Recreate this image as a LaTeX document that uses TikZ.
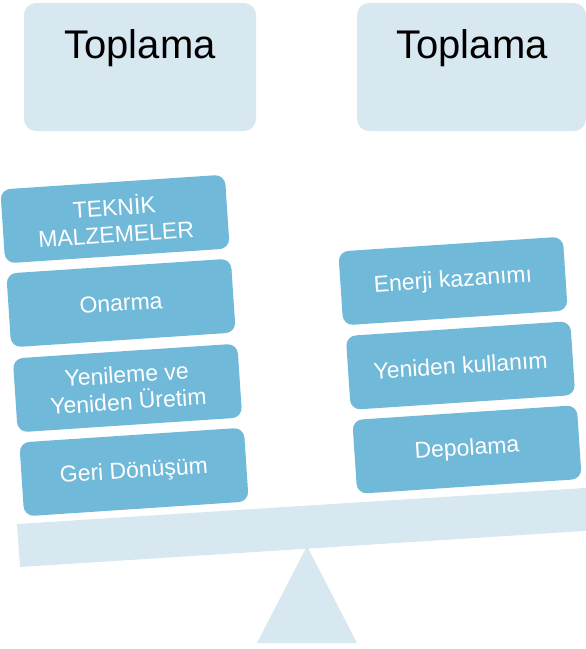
\documentclass[tikz,border=0pt]{standalone}
\usepackage{fontspec}
\setmainfont{Liberation Sans}
\definecolor{lightbox}{RGB}{216,232,241}
\definecolor{stackblue}{RGB}{113,185,216}
\begin{document}
\begin{tikzpicture}[x=1pt,y=-1pt,
  topbox/.style={fill=lightbox, draw=none, rounded corners=12pt},
  toptext/.style={font=\fontsize{40}{44}\selectfont, text=black, inner sep=0pt},
  stackbox/.style={fill=stackblue, draw=none, rounded corners=10pt, rotate=3.8,
    minimum width=225pt, minimum height=74pt, inner sep=0pt, align=center,
    text=white, font=\fontsize{23}{27}\selectfont},
  support/.style={fill=lightbox, draw=none}]
\useasboundingbox (0,0) rectangle (586,649);
\clip (0,0) rectangle (586,649);
% top collection boxes
\path[topbox] (24,3) rectangle (256,131);
\path[topbox] (357,3) rectangle (586,131);
\node[toptext, anchor=base] (t1) at (140,58) {Toplama};
\node[toptext, anchor=base] (t2) at (472,58) {Toplama};
% beam and fulcrum
\path[support] (17,524) -- (600,487) -- (600,530) -- (20,567) -- cycle;
\path[support] (307,546) -- (357,643) -- (257,643) -- cycle;
% left stack
\node[stackbox] (l1) at (115,219) {TEKNİK\\MALZEMELER};
\node[stackbox] (l2) at (121,303) {Onarma};
\node[stackbox] (l3) at (127.5,388) {Yenileme ve\\Yeniden Üretim};
\node[stackbox] (l4) at (134,472) {Geri Dönüşüm};
% right stack
\node[stackbox] (r1) at (453,281) {Enerji kazanımı};
\node[stackbox] (r2) at (460.5,365.5) {Yeniden kullanım};
\node[stackbox] (r3) at (467,449.5) {Depolama};
\end{tikzpicture}
\end{document}
